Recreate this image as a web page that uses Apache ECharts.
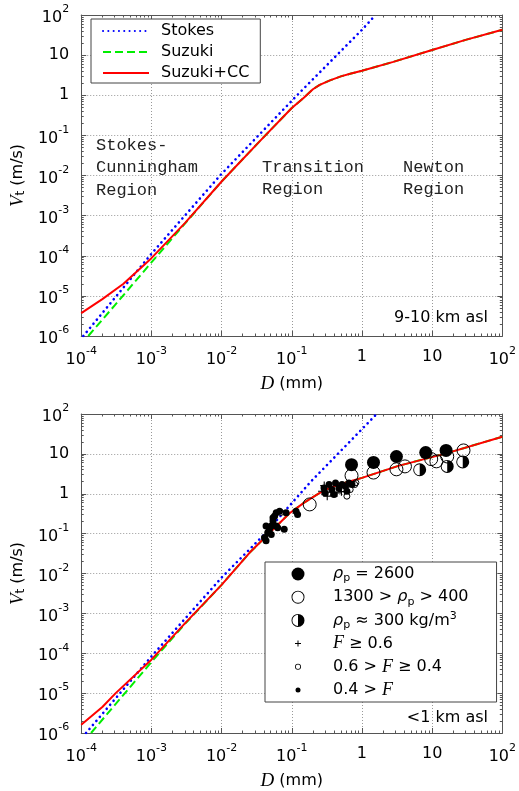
<!DOCTYPE html>
<html>
<head>
<meta charset="utf-8">
<script src="https://cdn.jsdelivr.net/npm/echarts@6.0.0/dist/echarts.min.js"></script>
<style>
  html, body { margin: 0; padding: 0; background: #fff; }
  #chart { width: 519px; height: 791px; }
</style>
</head>
<body>
<div id="chart"></div>
<script>
// decades shown on the axes (powers of ten)
const xExponents = [-4, -3, -2, -1, 0, 1, 2]
const yExponents = [-6, -5, -4, -3, -2, -1, 0, 1, 2]

// 9-10 km asl, [D (mm), Vt (m/s)]
const stokesTop = [[1.07e-4, 1e-6], [1e-3, 1.12e-4], [9.5e-3, 1e-2], [3.4e-2, 0.102], [0.128, 1.14], [1, 42.7], [1.56, 100]]
const suzukiTop = [[1.26e-4, 1e-6], [3e-4, 5.8e-6], [1e-3, 6.8e-5], [3e-3, 6.3e-4], [1e-2, 7.1e-3], [3.4e-2, 6.8e-2], [0.1, 0.48], [0.15, 0.88], [0.2, 1.41], [0.25, 1.82], [0.35, 2.34], [0.5, 2.95], [0.7, 3.47], [1, 4.07], [2.8, 6.8], [10, 13.4], [30, 24], [100, 42.7]]
const suzukiCCTop = [[1e-4, 3.7e-6], [2e-4, 8.3e-6], [4e-4, 2.0e-5], [1e-3, 8.7e-5], [3e-3, 6.5e-4], [1e-2, 7.1e-3], [3.4e-2, 6.8e-2], [0.1, 0.48], [0.15, 0.88], [0.2, 1.41], [0.25, 1.82], [0.35, 2.34], [0.5, 2.95], [0.7, 3.47], [1, 4.07], [2.8, 6.8], [10, 13.4], [30, 24], [100, 42.7]]

// <1 km asl
const stokesLow = [[1.17e-4, 1e-6], [1e-3, 8.3e-5], [1e-2, 7.9e-3], [3.9e-2, 8.9e-2], [0.186, 2.0], [1, 41.7], [1.62, 100]]
const suzukiLow = [[1.38e-4, 1e-6], [3e-4, 5e-6], [1e-3, 6.0e-5], [3e-3, 5.4e-4], [1e-2, 5.2e-3], [2.5e-2, 3.3e-2], [9.2e-2, 0.32], [0.15, 0.6], [0.244, 1.02], [0.34, 1.38], [0.5, 1.75], [1, 2.5], [3.3, 5.0], [15, 10], [100, 27]]
const suzukiCCLow = [[1e-4, 1.6e-6], [2e-4, 4.5e-6], [3.1e-4, 1e-5], [1e-3, 6.9e-5], [3e-3, 5.6e-4], [1e-2, 5.2e-3], [2.5e-2, 3.3e-2], [9.2e-2, 0.32], [0.15, 0.6], [0.244, 1.02], [0.34, 1.38], [0.5, 1.75], [1, 2.5], [3.3, 5.0], [15, 10], [100, 27]]

// observed particles (<1 km asl)
const dense2600 = [[0.71, 5.35], [1.46, 6.1], [3.1, 8.6], [8.1, 10.8], [15.8, 12.2]]
const medium = [[0.18, 0.54], [0.71, 2.85], [1.46, 3.4], [3.1, 4.1], [4.1, 4.85], [9.7, 7.4], [11.5, 6.5], [16.4, 8.6], [28, 12.2]]
const light300 = [[6.65, 4.0], [16.4, 4.85], [27.3, 6.3]]
const shapeHigh = [[0.27, 1.16], [0.32, 0.87], [0.36, 1.09], [0.44, 1.05], [0.29, 1.6], [0.51, 1.13]]
const shapeMid = [[0.61, 0.87], [0.79, 1.7], [0.68, 1.27], [0.041, 0.08], [0.07, 0.34], [0.82, 1.9]]
const shapeLow = [
  [0.041, 0.079], [0.0455, 0.106], [0.048, 0.128], [0.051, 0.155], [0.054, 0.206], [0.057, 0.275],
  [0.06, 0.334], [0.063, 0.141], [0.067, 0.366], [0.078, 0.128], [0.083, 0.334], [0.115, 0.366],
  [0.121, 0.30], [0.043, 0.066], [0.051, 0.095], [0.06, 0.155], [0.043, 0.155], [0.054, 0.25],
  [0.288, 1.40], [0.34, 1.70], [0.373, 1.27], [0.42, 1.87], [0.47, 1.40], [0.52, 1.70],
  [0.58, 1.54], [0.65, 1.87], [0.72, 1.70], [0.40, 0.955], [0.30, 1.05], [0.61, 1.15]
]

const obsNames = ['rho2600', 'rho1300', 'rho300', 'F06', 'F04', 'F00']
const obsLabels = [
  '{g|ρ}{sub|p} = 2600',
  '1300 > {g|ρ}{sub|p} > 400',
  '{g|ρ}{sub|p} ≈ 300 kg/m{sup|3}',
  '{f|F} ≥ 0.6',
  '0.6 > {f|F} ≥ 0.4',
  '0.4 > {f|F}'
]

const FONT = 'DejaVu Sans'
const frameColor = '#555'

const circ = (cx, cy, r, sw) => `M${cx + r} ${cy}A${r} ${r} 0 1 ${sw} ${cx - r} ${cy}A${r} ${r} 0 1 ${sw} ${cx + r} ${cy}Z`
const halfSymbol = 'path://' + circ(7, 7, 6.5, 1) + circ(7, 7, 5.6, 0) + 'M7 1.4A5.6 5.6 0 0 1 7 12.6Z'
const plusSymbol = 'path://M3.45 0H4.55V3.45H8V4.55H4.55V8H3.45V4.55H0V3.45H3.45Z'
// legend icons sit in a 14x14 frame so that their sizes differ
const box = 'path://M0 0M14 14'
const legendIcons = [
  box + circ(7, 7, 6.5, 1),
  box + circ(7, 7, 6.5, 1) + circ(7, 7, 5.6, 0),
  box + circ(7, 7, 6.5, 1) + circ(7, 7, 5.6, 0) + 'M7 1.4A5.6 5.6 0 0 1 7 12.6Z',
  box + 'M6.5 4H7.5V6.5H10V7.5H7.5V10H6.5V7.5H4V6.5H6.5Z',
  box + circ(7, 7, 3, 1) + circ(7, 7, 2.2, 0),
  box + circ(7, 7, 2.5, 1)
]

function decadeLabel (v) {
  const e = Math.round(Math.log10(v))
  if (e === 0) return '1'
  if (e === 1) return '10'
  return '\u200b{b|10}{s|' + e + '}'
}

const tickLabel = (margin) => ({
  formatter: decadeLabel,
  margin: margin,
  fontFamily: FONT,
  fontSize: 16,
  lineHeight: 22,
  color: '#000',
  rich: {
    b: { fontFamily: FONT, fontSize: 16, lineHeight: 16, verticalAlign: 'bottom', color: '#000' },
    s: { fontFamily: FONT, fontSize: 11, lineHeight: 16, verticalAlign: 'top', color: '#000' }
  }
})

const gridLine = { show: true, lineStyle: { color: '#999', type: [1, 2], width: 1 } }
const nameRich = {
  i: { fontFamily: 'Liberation Serif', fontStyle: 'italic', fontSize: 19, color: '#000' },
  sub: { fontFamily: FONT, fontSize: 12, lineHeight: 12, verticalAlign: 'bottom', color: '#000' }
}

function xAxes (gridIndex) {
  const base = {
    type: 'log',
    gridIndex: gridIndex,
    min: Math.pow(10, xExponents[0]),
    max: Math.pow(10, xExponents[xExponents.length - 1]),
    axisLine: { onZero: false, lineStyle: { color: frameColor, width: 1 } },
    axisTick: { inside: true, length: 5, lineStyle: { color: frameColor } },
    minorTick: { show: true, splitNumber: 9, length: 2.5, lineStyle: { color: frameColor } }
  }
  return [
    Object.assign({}, base, {
      position: 'bottom',
      axisLabel: tickLabel(10),
      splitLine: gridLine,
      name: '{i|D} (mm)',
      nameLocation: 'middle',
      nameGap: 38,
      nameTextStyle: { fontFamily: FONT, fontSize: 16, color: '#000', rich: nameRich }
    }),
    Object.assign({}, base, { position: 'top', axisLabel: { show: false }, splitLine: { show: false } })
  ]
}

function yAxes (gridIndex) {
  const base = {
    type: 'log',
    gridIndex: gridIndex,
    min: Math.pow(10, yExponents[0]),
    max: Math.pow(10, yExponents[yExponents.length - 1]),
    axisLine: { onZero: false, lineStyle: { color: frameColor, width: 1 } },
    axisTick: { inside: true, length: 5, lineStyle: { color: frameColor } },
    minorTick: { show: true, splitNumber: 9, length: 2.5, lineStyle: { color: frameColor } }
  }
  return [
    Object.assign({}, base, {
      position: 'left',
      axisLabel: tickLabel(12),
      splitLine: gridLine,
      name: '{i|V}{sub|t} (m/s)',
      nameLocation: 'middle',
      nameRotate: 90,
      nameGap: 48,
      nameTextStyle: { fontFamily: FONT, fontSize: 16, color: '#000', rich: nameRich }
    }),
    Object.assign({}, base, { position: 'right', axisLabel: { show: false }, splitLine: { show: false } })
  ]
}

const curveStyles = {
  Stokes: { color: '#0000ff', width: 2.6, type: [0.1, 5.2], cap: 'round' },
  Suzuki: { color: '#00ee00', width: 2, type: [8, 4] },
  'Suzuki+CC': { color: '#ff0000', width: 2, type: 'solid' }
}

function curve (name, data, axisIndex) {
  return {
    type: 'line',
    name: name,
    data: data,
    xAxisIndex: axisIndex,
    yAxisIndex: axisIndex,
    symbol: 'none',
    showSymbol: false,
    color: curveStyles[name].color,
    lineStyle: curveStyles[name],
    z: 3
  }
}

function points (name, data, symbol, size, filled) {
  return {
    type: 'scatter',
    name: name,
    data: data,
    xAxisIndex: 2,
    yAxisIndex: 2,
    symbol: symbol,
    symbolSize: size,
    itemStyle: filled
      ? { color: '#000', borderWidth: 0, opacity: 1 }
      : { color: 'rgba(0,0,0,0)', borderColor: '#000', borderWidth: 1, opacity: 1 },
    z: 4
  }
}

const chart = echarts.init(document.getElementById('chart'), null, { renderer: 'canvas' })

const option = {
  animation: false,
  backgroundColor: '#fff',
  grid: [
    { left: 80, top: 15, width: 425, height: 321 },
    { left: 80, top: 414, width: 425, height: 321 }
  ],
  xAxis: xAxes(0).concat(xAxes(1)),
  yAxis: yAxes(0).concat(yAxes(1)),
  legend: [
    {
      orient: 'vertical',
      left: 91,
      top: 19,
      data: ['Stokes', 'Suzuki', 'Suzuki+CC'],
      selectedMode: false,
      itemWidth: 46,
      itemHeight: 14,
      itemGap: 5,
      padding: [4, 11, 2, 11],
      backgroundColor: '#fff',
      borderColor: '#444',
      borderWidth: 1,
      borderRadius: 0,
      itemStyle: { color: 'rgba(0,0,0,0)', borderWidth: 0, opacity: 0 },
      textStyle: { fontFamily: FONT, fontSize: 16, lineHeight: 16, color: '#000', padding: [0, 0, 0, 7] }
    },
    {
      orient: 'vertical',
      left: 265,
      top: 562,
      data: obsNames.map((n, i) => ({ name: n, icon: legendIcons[i] })),
      selectedMode: false,
      itemWidth: 14,
      itemHeight: 14,
      itemGap: 3.2,
      padding: [2, 28, 2, 26],
      backgroundColor: '#fff',
      borderColor: '#444',
      borderWidth: 1,
      borderRadius: 0,
      itemStyle: { color: '#000', borderWidth: 0, opacity: 1 },
      formatter: (name) => obsLabels[obsNames.indexOf(name)],
      textStyle: {
        fontFamily: FONT,
        fontSize: 16,
        lineHeight: 20,
        color: '#000',
        padding: [0, 0, 0, 23],
        rich: {
          g: { fontFamily: FONT, fontStyle: 'italic', fontSize: 16, lineHeight: 20, color: '#000' },
          sub: { fontFamily: FONT, fontSize: 11, lineHeight: 12, verticalAlign: 'bottom', color: '#000' },
          sup: { fontFamily: FONT, fontSize: 11, lineHeight: 12, verticalAlign: 'top', color: '#000' },
          f: { fontFamily: 'Liberation Serif', fontStyle: 'italic', fontSize: 18, lineHeight: 20, color: '#000' }
        }
      }
    }
  ],
  graphic: [
    { type: 'text', left: 96, top: 134, style: { text: 'Stokes-\nCunningham\nRegion', font: '17px "Liberation Mono"', lineHeight: 22.5, fill: '#222' } },
    { type: 'text', left: 262, top: 156, style: { text: 'Transition\nRegion', font: '17px "Liberation Mono"', lineHeight: 22.5, fill: '#222' } },
    { type: 'text', left: 403, top: 156, style: { text: 'Newton\nRegion', font: '17px "Liberation Mono"', lineHeight: 22.5, fill: '#222' } },
    { type: 'text', x: 488, y: 318, style: { text: '9-10 km asl', font: '16px "DejaVu Sans"', align: 'right', verticalAlign: 'middle', fill: '#000' } },
    { type: 'text', x: 488, y: 718, style: { text: '<1 km asl', font: '16px "DejaVu Sans"', align: 'right', verticalAlign: 'middle', fill: '#000' } }
  ],
  series: [
    curve('Stokes', stokesTop, 0),
    curve('Suzuki', suzukiTop, 0),
    curve('Suzuki+CC', suzukiCCTop, 0),
    curve('Stokes', stokesLow, 2),
    curve('Suzuki', suzukiLow, 2),
    curve('Suzuki+CC', suzukiCCLow, 2),
    points('rho2600', dense2600, 'circle', 13, true),
    points('rho1300', medium, 'circle', 13, false),
    points('rho300', light300, halfSymbol, 13, true),
    points('F06', shapeHigh, plusSymbol, 8, true),
    points('F04', shapeMid, 'circle', 6, false),
    points('F00', shapeLow, 'circle', 7, true)
  ]
}

chart.setOption(option)
</script>
</body>
</html>
